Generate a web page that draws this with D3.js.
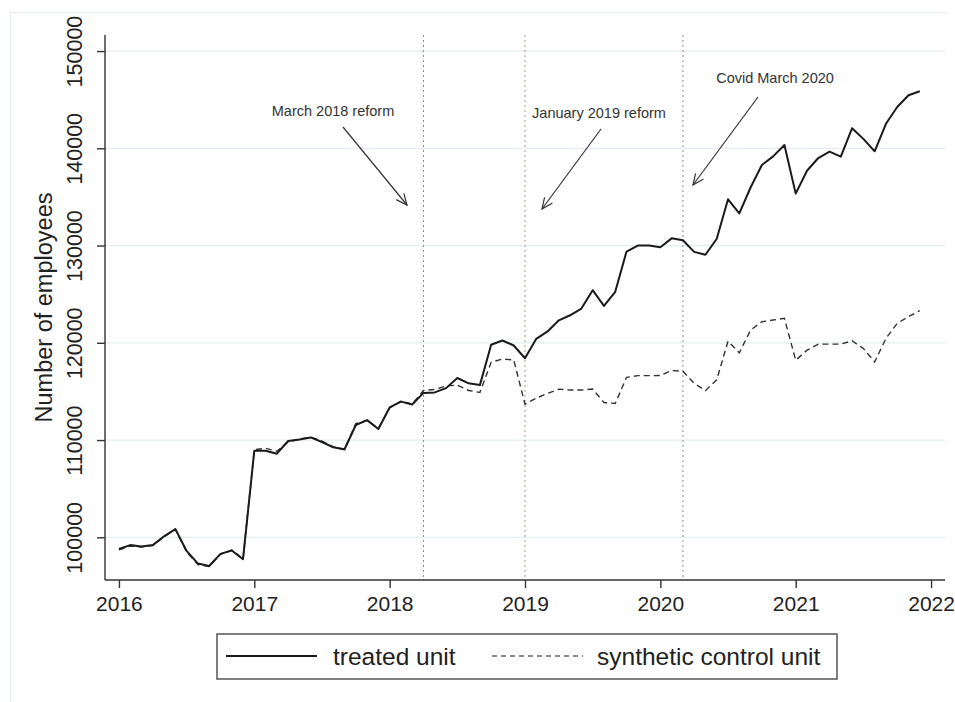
<!DOCTYPE html>
<html>
<head>
<meta charset="utf-8">
<script src="https://cdn.jsdelivr.net/npm/d3@7"></script>
<style>
  html, body { margin: 0; padding: 0; background: #fff; }
  svg { display: block; font-family: "Liberation Sans", Arial, sans-serif; }
</style>
</head>
<body>
<div id="chart"></div>
<script>
// monthly series, Jan 2016 .. Dec 2021
const startYear = 2016;
const treated = [
  98800, 99200, 99050, 99200, 100100, 100850, 98600, 97300, 97050, 98300, 98650, 97750,
  108900, 108900, 108600, 109900, 110050, 110270, 109800, 109250, 109050, 111550, 112050, 111130,
  113350, 113950, 113650, 114850, 114900, 115340, 116380, 115830, 115650, 119800, 120240, 119720,
  118410, 120410, 121170, 122310, 122830, 123520, 125410, 123790, 125240, 129380, 130000, 130000,
  129830, 130740, 130550, 129350, 129050, 130700, 134760, 133310, 135970, 138280, 139170, 140340,
  135340, 137690, 139000, 139660, 139140, 142070, 140970, 139690, 142520, 144240, 145450, 145860
];
const synthetic = [
  98700, 99100, 99000, 99150, 100050, 100800, 98500, 97200, 97000, 98250, 98700, 97800,
  109000, 109150, 108850, 109800, 110100, 110300, 109900, 109300, 109000, 111700, 112000, 111200,
  113300, 114000, 113700, 115100, 115200, 115550, 115650, 115100, 114900, 118000, 118340, 118240,
  113690, 114310, 114790, 115240, 115140, 115140, 115240, 113860, 113760, 116450, 116620, 116620,
  116640, 117150, 117070, 115830, 115080, 116200, 120170, 118970, 121310, 122170, 122340, 122520,
  118210, 119240, 119860, 119860, 119860, 120210, 119410, 118030, 120450, 122000, 122690, 123310
];
const xTicks = [2016, 2017, 2018, 2019, 2020, 2021, 2022];
const yTicks = [100000, 110000, 120000, 130000, 140000, 150000];
const events = [2018.25, 2019.0, 2020.167];
const eventColors = ["#8c8c8c", "#a89c7c", "#8c8c8c"];
const notes = ["March 2018 reform", "January 2019 reform", "Covid March 2020"];
const seriesNames = ["treated unit", "synthetic control unit"];

const width = 955;
const height = 702;
const pLeft = 105, pRight = 945, pTop = 35, pBottom = 580;

const x = d3.scaleLinear().domain([2015.897, 2022.103]).range([pLeft, pRight]);
const y = d3.scaleLinear().domain([95610, 151650]).range([pBottom, pTop]);

const svg = d3.select("#chart").append("svg")
  .attr("width", width)
  .attr("height", height);

// faint outer frame
svg.append("path")
  .attr("d", "M10.5,702 L10.5,12.5 L948,12.5")
  .attr("fill", "none")
  .attr("stroke", "#e6edef")
  .attr("stroke-width", 1.2);

// gridlines
svg.append("g").selectAll("line")
  .data(yTicks).enter().append("line")
  .attr("x1", pLeft).attr("x2", pRight)
  .attr("y1", d => y(d)).attr("y2", d => y(d))
  .attr("stroke", "#e3eef0")
  .attr("stroke-width", 1.3);

// event lines
svg.append("g").selectAll("line")
  .data(events).enter().append("line")
  .attr("x1", d => x(d)).attr("x2", d => x(d))
  .attr("y1", pTop).attr("y2", pBottom)
  .attr("stroke", (d, i) => eventColors[i])
  .attr("stroke-width", 1)
  .attr("stroke-dasharray", "2,3");

// axes
const xAxis = d3.axisBottom(x).tickValues(xTicks).tickFormat(d3.format("d")).tickSize(8).tickPadding(8);
const yAxis = d3.axisLeft(y).tickValues(yTicks).tickFormat(d3.format("d")).tickSize(8);

const gx = svg.append("g")
  .attr("transform", "translate(0," + pBottom + ")")
  .call(xAxis);
gx.select(".domain").attr("d", "M" + pLeft + ",0H" + pRight).attr("stroke", "#333").attr("stroke-width", 1.4);
gx.selectAll(".tick line").attr("stroke", "#333").attr("stroke-width", 1.4);
gx.selectAll(".tick text")
  .attr("font-size", 21)
  .attr("font-family", "Liberation Sans, Arial, sans-serif")
  .attr("fill", "#222");

const gy = svg.append("g")
  .attr("transform", "translate(" + pLeft + ",0)")
  .call(yAxis);
gy.select(".domain").attr("d", "M0," + pTop + "V" + pBottom).attr("stroke", "#333").attr("stroke-width", 1.4);
gy.selectAll(".tick line").attr("stroke", "#333").attr("stroke-width", 1.4);
gy.selectAll(".tick text")
  .attr("font-size", 21.5)
  .attr("font-family", "Liberation Sans, Arial, sans-serif")
  .attr("fill", "#222")
  .attr("text-anchor", "middle")
  .attr("dy", 0)
  .attr("x", 0)
  .attr("y", 0)
  .attr("transform", "translate(-23,0) rotate(-90)");

svg.append("text")
  .attr("transform", "translate(52," + ((pTop + pBottom) / 2) + ") rotate(-90)")
  .attr("text-anchor", "middle")
  .attr("font-size", 23.5)
  .attr("fill", "#222")
  .text("Number of employees");

// series
const line = d3.line()
  .x((d, i) => x(startYear + i / 12))
  .y(d => y(d));

svg.append("path")
  .datum(synthetic)
  .attr("fill", "none")
  .attr("stroke", "#333")
  .attr("stroke-width", 1.4)
  .attr("stroke-dasharray", "6,4")
  .attr("d", line);

svg.append("path")
  .datum(treated)
  .attr("fill", "none")
  .attr("stroke", "#1a1a1a")
  .attr("stroke-width", 2)
  .attr("stroke-linejoin", "round")
  .attr("d", line);

// annotations
const notePos = [
  { tx: 333, ty: 116, x1: 343, y1: 127, x2: 407, y2: 205 },
  { tx: 599, ty: 118, x1: 601, y1: 129, x2: 542, y2: 209 },
  { tx: 775, ty: 83, x1: 758, y1: 97, x2: 693, y2: 185 }
];

const arrowHead = (p) => {
  const a = Math.atan2(p.y2 - p.y1, p.x2 - p.x1);
  const len = 12, spread = 0.42;
  return "M" + (p.x2 - len * Math.cos(a - spread)) + "," + (p.y2 - len * Math.sin(a - spread)) +
    "L" + p.x2 + "," + p.y2 +
    "L" + (p.x2 - len * Math.cos(a + spread)) + "," + (p.y2 - len * Math.sin(a + spread));
};

const ann = svg.append("g").selectAll("g")
  .data(notePos).enter().append("g");

ann.append("text")
  .attr("x", d => d.tx)
  .attr("y", d => d.ty)
  .attr("text-anchor", "middle")
  .attr("font-size", 14.5)
  .attr("fill", "#333")
  .text((d, i) => notes[i]);

ann.append("line")
  .attr("x1", d => d.x1).attr("y1", d => d.y1)
  .attr("x2", d => d.x2).attr("y2", d => d.y2)
  .attr("stroke", "#333")
  .attr("stroke-width", 1.2);

ann.append("path")
  .attr("d", arrowHead)
  .attr("fill", "none")
  .attr("stroke", "#333")
  .attr("stroke-width", 1.2);

// legend
const legend = svg.append("g");
legend.append("rect")
  .attr("x", 217).attr("y", 634)
  .attr("width", 620).attr("height", 45)
  .attr("fill", "#fff")
  .attr("stroke", "#555")
  .attr("stroke-width", 1.5);

const legendItems = [
  { x1: 226, x2: 317, tx: 333, dash: null, w: 2 },
  { x1: 492, x2: 583, tx: 597, dash: "5,4", w: 1.2 }
];
const li = legend.selectAll(".item").data(legendItems).enter().append("g");
li.append("line")
  .attr("x1", d => d.x1).attr("x2", d => d.x2)
  .attr("y1", 656).attr("y2", 656)
  .attr("stroke", "#1a1a1a")
  .attr("stroke-width", d => d.w)
  .attr("stroke-dasharray", d => d.dash);
li.append("text")
  .attr("x", d => d.tx)
  .attr("y", 665)
  .attr("font-size", 24.5)
  .attr("fill", "#222")
  .text((d, i) => seriesNames[i]);
</script>
</body>
</html>
